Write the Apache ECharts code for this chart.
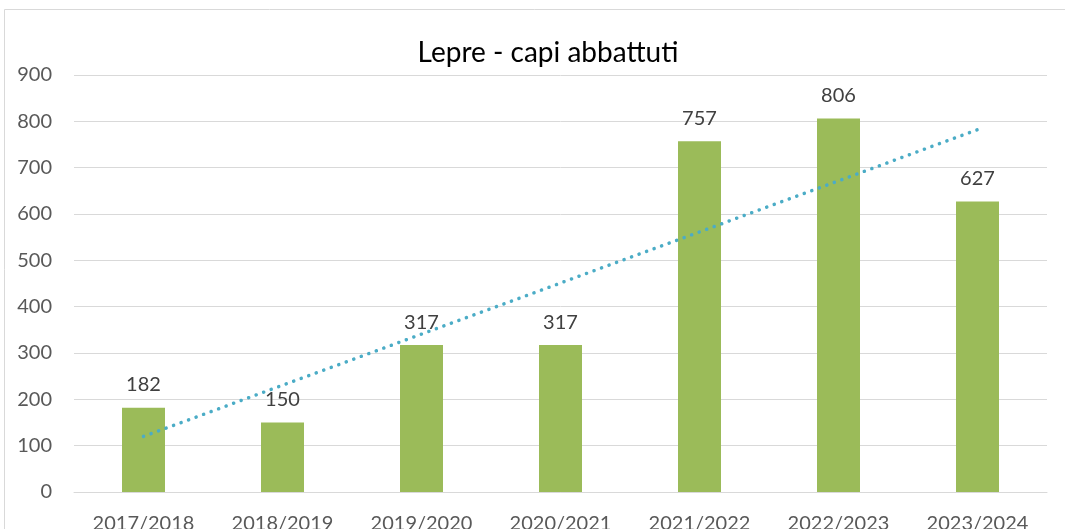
<!DOCTYPE html>
<html>
<head>
<meta charset="utf-8">
<script src="https://cdn.jsdelivr.net/npm/echarts@6/dist/echarts.min.js"></script>
<style>
  html, body { margin: 0; padding: 0; background: #fff; }
  #chart { width: 1065px; height: 529px; }
</style>
</head>
<body>
<div id="chart"></div>
<script>
const categories = ['2017/2018', '2018/2019', '2019/2020', '2020/2021', '2021/2022', '2022/2023', '2023/2024']
const catchValues = [182, 150, 317, 317, 757, 806, 627]
// trendline end points (first and last category)
const trendStart = 120
const trendEnd = 782
const yTicks = { min: 0, max: 900, interval: 100 }

const chart = echarts.init(document.getElementById('chart'))
const font = 'Lato, "Open Sans", sans-serif'

chart.setOption({
  animation: false,
  title: {
    text: 'Lepre - capi abbattuti',
    left: 543,
    top: 34,
    textAlign: 'center',
    textStyle: {
      fontFamily: font,
      fontSize: 28,
      fontWeight: 'normal',
      color: '#000'
    }
  },
  graphic: [{
    type: 'polyline',
    shape: { points: [[4.5, 529], [4.5, 9.5], [1065, 9.5]] },
    style: { stroke: '#d9d9d9', lineWidth: 1, fill: null },
    silent: true
  }],
  grid: {
    left: 74,
    right: 18,
    top: 75,
    bottom: 37,
    containLabel: false,
    outerBoundsMode: 'none'
  },
  xAxis: {
    type: 'category',
    data: categories,
    axisTick: { show: false },
    axisLine: { lineStyle: { color: '#d9d9d9', width: 1 } },
    axisLabel: {
      margin: 22,
      fontFamily: font,
      fontSize: 20,
      color: '#595959'
    }
  },
  yAxis: {
    type: 'value',
    min: yTicks.min,
    max: yTicks.max,
    interval: yTicks.interval,
    axisLine: { show: false },
    axisTick: { show: false },
    splitLine: { lineStyle: { color: '#d9d9d9', width: 1 } },
    axisLabel: {
      margin: 22,
      fontFamily: font,
      fontSize: 20,
      color: '#595959'
    }
  },
  series: [{
    type: 'bar',
    data: catchValues,
    barWidth: 43,
    itemStyle: { color: '#9bbb59' },
    label: {
      show: true,
      position: 'top',
      distance: 13,
      fontFamily: font,
      fontSize: 20,
      color: '#404040'
    }
  }, {
    type: 'line',
    data: [[0, trendStart], [categories.length - 1, trendEnd]],
    symbol: 'none',
    silent: true,
    lineStyle: {
      color: '#4bacc6',
      width: 3.5,
      type: [0.1, 7.9],
      cap: 'round'
    }
  }]
})
</script>
</body>
</html>
